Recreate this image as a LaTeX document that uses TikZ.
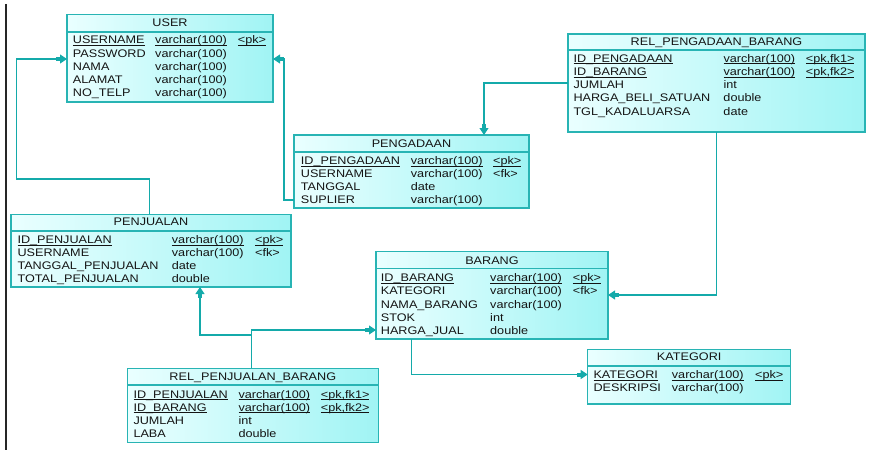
\documentclass[tikz,border=0pt]{standalone}
\usepackage{fontspec}
\setmainfont{Liberation Sans}[FakeStretch=1.15]
\usetikzlibrary{arrows.meta}
\definecolor{bd}{RGB}{40,180,180}
\definecolor{ln}{RGB}{20,170,170}
\definecolor{fL}{RGB}{234,255,255}
\definecolor{fR}{RGB}{160,244,244}
\definecolor{tx}{RGB}{20,20,20}
\newcommand\ul[1]{\underline{\smash{#1}}}
\tikzset{
  tbl/.style={draw=bd, line width=1.2pt, left color=fL, right color=fR, inner sep=0pt, outer sep=0pt, anchor=north west},
  ttl/.style={font=\fontsize{11}{13.2}\selectfont, text=tx, anchor=base, inner sep=0pt},
  body/.style={font=\fontsize{11}{13.2}\selectfont, text=tx, anchor=base west, inner sep=0pt},
  sepline/.style={draw=bd, line width=1.2pt},
  fk/.style={draw=ln, line width=1.1pt, -{Rectangle[length=4pt,width=4pt,sep=0pt]Triangle[length=7pt,width=9pt,sep=0pt]}},
}
\begin{document}
\begin{tikzpicture}[x=1pt,y=-1pt]
\useasboundingbox (0,0) rectangle (886,460);
\draw[line width=1.3pt, black!85] (6,4) -- (6,450);

% USER
\node[tbl, minimum width=206pt, minimum height=87.3pt] (user) at (67,14.7) {};
\draw[sepline] ([yshift=-17.3pt]user.north west) -- ([yshift=-17.3pt]user.north east);
\node[ttl] (user-t) at (170,27) {USER};
\node[body] (user-b) at (72.7,44) {\begin{tabular}[t]{@{}p{82.3pt}@{}p{82.7pt}@{}l@{}}
\ul{USERNAME} & \ul{varchar(100)} & \ul{<pk>}\\
PASSWORD & varchar(100) & \\
NAMA & varchar(100) & \\
ALAMAT & varchar(100) & \\
NO\_TELP & varchar(100) &
\end{tabular}};

% PENGADAAN
\node[tbl, minimum width=235pt, minimum height=73pt] (peng) at (294,135) {};
\draw[sepline] ([yshift=-17pt]peng.north west) -- ([yshift=-17pt]peng.north east);
\node[ttl] (peng-t) at (411.5,147.3) {PENGADAAN};
\node[body] (peng-b) at (300.7,164.3) {\begin{tabular}[t]{@{}p{110pt}@{}p{82.3pt}@{}l@{}}
\ul{ID\_PENGADAAN} & \ul{varchar(100)} & \ul{<pk>}\\
USERNAME & varchar(100) & <fk>\\
TANGGAL & date & \\
SUPLIER & varchar(100) &
\end{tabular}};

% REL_PENGADAAN_BARANG
\node[tbl, minimum width=297pt, minimum height=98pt] (relpg) at (568,34) {};
\draw[sepline] ([yshift=-16pt]relpg.north west) -- ([yshift=-16pt]relpg.north east);
\node[ttl] (relpg-t) at (716.5,45.7) {REL\_PENGADAAN\_BARANG};
\node[body] (relpg-b) at (573.3,62.3) {\begin{tabular}[t]{@{}p{150pt}@{}p{82.4pt}@{}l@{}}
\ul{ID\_PENGADAAN} & \ul{varchar(100)} & \ul{<pk,fk1>}\\
\ul{ID\_BARANG} & \ul{varchar(100)} & \ul{<pk,fk2>}\\
JUMLAH & int & \\
HARGA\_BELI\_SATUAN & double & \\
TGL\_KADALUARSA & date &
\end{tabular}};

% PENJUALAN
\node[tbl, minimum width=280pt, minimum height=72.7pt] (penj) at (11,214.3) {};
\draw[sepline] ([yshift=-16.7pt]penj.north west) -- ([yshift=-16.7pt]penj.north east);
\node[ttl] (penj-t) at (151,225.7) {PENJUALAN};
\node[body] (penj-b) at (17.3,243.3) {\begin{tabular}[t]{@{}p{154.4pt}@{}p{83.3pt}@{}l@{}}
\ul{ID\_PENJUALAN} & \ul{varchar(100)} & \ul{<pk>}\\
USERNAME & varchar(100) & <fk>\\
TANGGAL\_PENJUALAN & date & \\
TOTAL\_PENJUALAN & double &
\end{tabular}};

% BARANG
\node[tbl, minimum width=232pt, minimum height=87.3pt] (barang) at (376,251.7) {};
\draw[sepline] ([yshift=-16.6pt]barang.north west) -- ([yshift=-16.6pt]barang.north east);
\node[ttl] (barang-t) at (492,264) {BARANG};
\node[body] (barang-b) at (380.7,281.7) {\begin{tabular}[t]{@{}p{109.3pt}@{}p{82.7pt}@{}l@{}}
\ul{ID\_BARANG} & \ul{varchar(100)} & \ul{<pk>}\\
KATEGORI & varchar(100) & <fk>\\
NAMA\_BARANG & varchar(100) & \\
STOK & int & \\
HARGA\_JUAL & double &
\end{tabular}};

% REL_PENJUALAN_BARANG
\node[tbl, minimum width=251pt, minimum height=74.4pt] (relpj) at (127.3,368.3) {};
\draw[sepline] ([yshift=-16.7pt]relpj.north west) -- ([yshift=-16.7pt]relpj.north east);
\node[ttl] (relpj-t) at (252.8,380) {REL\_PENJUALAN\_BARANG};
\node[body] (relpj-b) at (133.3,398) {\begin{tabular}[t]{@{}p{105pt}@{}p{82.4pt}@{}l@{}}
\ul{ID\_PENJUALAN} & \ul{varchar(100)} & \ul{<pk,fk1>}\\
\ul{ID\_BARANG} & \ul{varchar(100)} & \ul{<pk,fk2>}\\
JUMLAH & int & \\
LABA & double &
\end{tabular}};

% KATEGORI
\node[tbl, minimum width=203pt, minimum height=54.7pt] (kat) at (587.7,349.3) {};
\draw[sepline] ([yshift=-16.7pt]kat.north west) -- ([yshift=-16.7pt]kat.north east);
\node[ttl] (kat-t) at (689.2,360.7) {KATEGORI};
\node[body] (kat-b) at (593.3,378.3) {\begin{tabular}[t]{@{}p{78.4pt}@{}p{83.3pt}@{}l@{}}
\ul{KATEGORI} & \ul{varchar(100)} & \ul{<pk>}\\
DESKRIPSI & varchar(100) &
\end{tabular}};

% connectors
\coordinate (a1) at (149.5,179);
\coordinate (a2) at (16.5,59);
\coordinate (b1) at (284,200);
\coordinate (b2) at (284,59);
\coordinate (c1) at (484,83);
\coordinate (d1) at (716.5,295);
\coordinate (e1) at (251.7,335);
\coordinate (e2) at (200,335);
\coordinate (f1) at (251.7,330);
\coordinate (g1) at (411.7,374.5);

\draw[fk] (penj.north -| a1) -- (a1) -| (a2) -- (user.west |- a2);
\draw[fk] (peng.west |- b1) -- (b1) -- (b2) -- (user.east |- b2);
\draw[fk] (relpg.west |- c1) -- (c1) -- (peng.north -| c1);
\draw[fk] (relpg.south -| d1) -- (d1) -- (barang.east |- d1);
\draw[fk] (relpj.north -| e1) -- (e1) -- (e2) -- (penj.south -| e2);
\draw[fk] (relpj.north -| f1) -- (f1) -- (barang.west |- f1);
\draw[fk] (barang.south -| g1) -- (g1) -- (kat.west |- g1);
\end{tikzpicture}
\end{document}
